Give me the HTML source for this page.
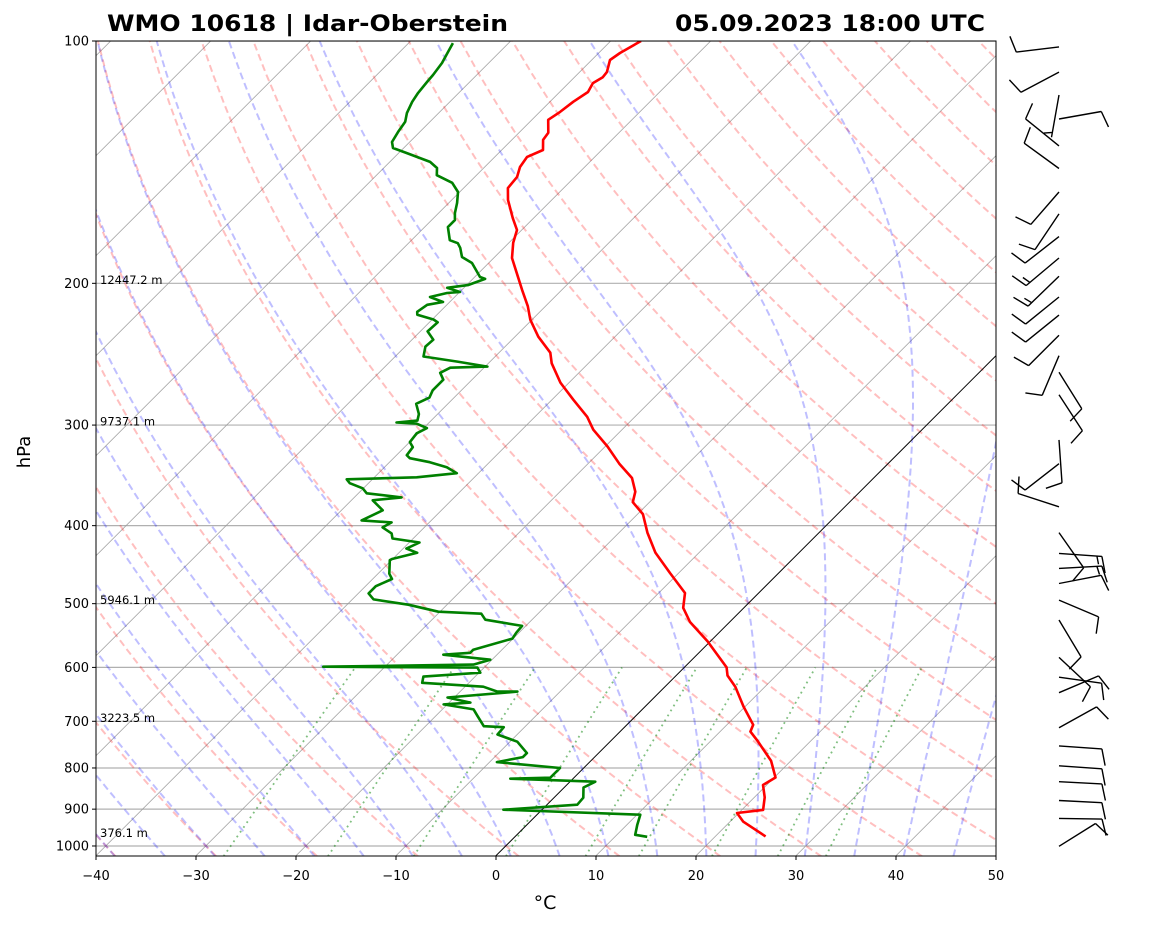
<!DOCTYPE html>
<html><head><meta charset="utf-8"><style>
html,body{margin:0;padding:0;background:#fff;}
svg{display:block;font-family:"DejaVu Sans","Liberation Sans",sans-serif;}
</style></head><body>
<svg id="chart" width="1160" height="925" viewBox="0 0 1160 925" xmlns="http://www.w3.org/2000/svg">
<defs><clipPath id="plotclip"><rect x="96" y="41" width="900" height="815"/></clipPath></defs>
<rect x="0" y="0" width="1160" height="925" fill="#fff"/>
<g id="bg" clip-path="url(#plotclip)"></g>
<g id="prof" clip-path="url(#plotclip)"></g>
<rect x="96" y="41" width="900" height="815" fill="none" stroke="#000" stroke-width="1"/>
<g id="axes"></g>
<g id="barbs"></g>
<text x="107" y="31" font-size="22" font-weight="bold" textLength="401" lengthAdjust="spacingAndGlyphs">WMO 10618 | Idar-Oberstein</text>
<text x="675" y="31" font-size="22" font-weight="bold" textLength="310" lengthAdjust="spacingAndGlyphs">05.09.2023 18:00 UTC</text>
<text x="30" y="452" font-size="18" text-anchor="middle" transform="rotate(-90 30 452)">hPa</text>
<text x="545" y="909" font-size="19" text-anchor="middle">°C</text>
</svg>
<script>
const tempP=[100,103.5,105.6,109.3,110.9,112.8,115.7,119,122.5,125.3,130,132.7,136.6,139.3,143.4,147.5,152.3,157.6,166,171.7,178.1,186,194.3,203.8,213.5,221.9,233,243.9,251.4,265.7,279,293,304,319,335,349,363,374,387,408,432,458,485,506,527,557,600,614,634,671,707,721,741,784,822,840,870,902,910,933,973];
const tempT=[-67.0,-67.9,-68.2,-67.3,-67.2,-67.6,-67.2,-67.7,-68.0,-68.4,-67.1,-66.9,-65.9,-66.8,-66.5,-65.8,-65.6,-64.4,-62.1,-60.5,-59.6,-58.2,-56.2,-54.0,-51.8,-50.2,-47.7,-44.9,-43.7,-40.9,-37.9,-34.8,-32.9,-29.8,-26.9,-24.2,-22.5,-21.7,-19.5,-17.2,-14.4,-10.9,-7.4,-6.1,-4.0,-0.3,4.2,5.1,7.0,9.8,12.6,13.0,14.7,18.0,20.1,19.6,21.0,22.1,19.8,21.3,25.0];
const dewP=[100.6,103.2,106.5,110.2,112.4,116,119,122.9,126,129.7,133.5,135.8,137.8,141.3,143.8,146.8,150,154,158.9,163.6,166.9,170.3,176.8,178.3,180.7,185.5,188.7,196.4,197.5,201,202.6,205,205.6,208,211,212.7,217,218.8,221.8,223.6,229.5,235,239.7,246.6,250.2,253.8,254.6,258.3,263.5,271.6,277.3,282.3,290.7,296.2,297.8,298.7,302.6,307.1,315,319.6,327,329.8,333.6,338.4,344.3,348.3,350.3,354.3,359.5,364.7,368.9,372,382.8,394,396.3,402,409,415,419.8,427.2,432.3,440,441.5,459,466,475.6,485.6,494,501.5,511.7,514.6,523.5,532.9,543.3,552.5,570.4,575.4,578.6,587,595.3,598.8,600.4,609.2,616,627,634,643,643,654,663.6,667,676.5,690,710,712,727,742,766.7,775.5,786.6,800,822.5,825,832,846,871,888.5,901.5,914.5,941,968.5,974];
const dewT=[-85.6,-85.2,-84.7,-84.4,-84.3,-84.1,-83.8,-83.2,-82.5,-82.2,-81.8,-81.1,-79.2,-76.0,-74.7,-74.0,-71.7,-70.2,-69.2,-68.4,-67.7,-67.7,-66.2,-65.1,-64.4,-63.3,-61.7,-59.5,-58.8,-59.9,-61.7,-60.0,-61.2,-62.5,-60.7,-62.0,-62.3,-62.0,-59.9,-59.2,-59.3,-57.9,-58.0,-57.2,-53.3,-49.8,-53.4,-53.9,-52.9,-52.9,-52.5,-53.2,-51.9,-51.4,-53.3,-51.2,-49.7,-50.2,-50.0,-49.2,-49.0,-48.4,-46.0,-43.8,-42.2,-45.8,-52.6,-51.9,-50.1,-49.2,-45.3,-47.9,-45.9,-47.0,-43.8,-44.2,-42.7,-42.1,-39.0,-39.7,-38.2,-40.1,-40.2,-38.9,-38.1,-39.0,-39.0,-37.9,-33.9,-30.2,-25.7,-24.7,-20.4,-20.3,-20.1,-22.9,-22.9,-25.4,-20.2,-21.4,-36.2,-20.7,-19.9,-25.2,-24.7,-18.2,-16.3,-14.3,-20.7,-17.9,-20.4,-16.9,-15.8,-14.2,-12.1,-12.0,-9.3,-7.2,-7.2,-9.3,-2.4,-2.4,-6.3,2.5,1.9,2.9,3.0,-3.9,10.3,11.0,11.8,13.2];
const barbP=[101.7,109.3,116.7,125,135,144,154,164,175,186,196,208,219,232,246,258,275,313,335,379,408,433,452,472,495,524,583,617,645,713,751,795,832,878,924,1001];
const barbDir=[263,242,190,80,309,306,221,214,232,230,226,231,231,225,203,148,147,176,232,288,145,94,87,79,113,149,133,98,67,61,94,94,93,93,91,58];
const barbSpd=[10,10,5,10,10,10,10,10,10,15,15,10,10,10,10,10,10,10,10,10,10,15,15,10,10,10,10,10,10,10,10,10,10,10,10,10];
const pTicks=[100,200,300,400,500,600,700,800,900,1000];
const tTicks=[-40,-30,-20,-10,0,10,20,30,40,50];
const heightP=[200,300,500,700,973];
const heightLabels=["12447.2 m","9737.1 m","5946.1 m","3223.5 m","376.1 m"];
const dryTheta=[-40,-30,-20,-10,0,10,20,30,40,50,60,70,80,90,100,110,120,130,140,150,160,170,180,190,200];
const moistT0=[-40,-35,-30,-25,-20,-15,-10,-5,0,5,10,15,20,25,30,35,40,45];
const mixW=[0.0004,0.001,0.002,0.004,0.007,0.01,0.016,0.024,0.032];

const NS="http://www.w3.org/2000/svg";
const PX0=96,PY0=41,PYB=856,PBOT=1030,KLOG=349.6;
function yOf(p){return PY0+KLOG*Math.log(p/100);}
function xOf(T,p){return PX0+(T+40)*10+(PYB-yOf(p));}
function mk(tag,attrs,parent){const e=document.createElementNS(NS,tag);for(const k in attrs)e.setAttribute(k,attrs[k]);parent.appendChild(e);return e;}
function ptsStr(arr){return arr.map(a=>a[0].toFixed(1)+","+a[1].toFixed(1)).join(" ");}
const bg=document.getElementById('bg'),prof=document.getElementById('prof'),axes=document.getElementById('axes'),barbs=document.getElementById('barbs');

pTicks.forEach(p=>{
  const l=mk('line',{x1:PX0,x2:996,y1:yOf(p),y2:yOf(p),stroke:'#b0b0b0','stroke-width':1.2},bg);
  
  
});
for(let T=-160;T<=50;T+=10){
  const x1=xOf(T,PBOT),y1=PYB,x2=x1+900,y2=PYB-900;
  const l=mk('line',{x1:x1,y1:y1,x2:x2,y2:y2,stroke:'#999','stroke-width':0.8,'stroke-opacity':0.9},bg);
  
  
}
dryTheta.forEach(th=>{
  const pts=[];
  for(let p=PBOT;p>=100;p-=10){const T=(th+273.15)*Math.pow(p/1000,0.2857)-273.15;pts.push([xOf(T,p),yOf(p)]);}
  const l=mk('polyline',{points:ptsStr(pts),fill:'none',stroke:'#f00','stroke-opacity':0.25,'stroke-width':2,'stroke-dasharray':'7,4'},bg);
  
  
});
function es(Tc){return 6.112*Math.exp(17.67*Tc/(Tc+243.5));}
function dTdp(Tk,p){const Rd=287.04,Cp=1004.6,Lv=2.501e6,eps=0.622;const e=es(Tk-273.15);const rs=eps*e/(p-e);
  return (1/p)*(Rd*Tk+Lv*rs)/(Cp+(Lv*Lv*rs*eps/(Rd*Tk*Tk)));}
function moistLine(t0){
  const up=[];let Tk=t0+273.15;
  for(let p=1000;p>100;p-=1){up.push([p,Tk]);Tk-=dTdp(Tk,p)*1;}
  up.push([100,Tk]);
  const dn=[];Tk=t0+273.15;
  for(let p=1000;p<PBOT;p+=1){Tk+=dTdp(Tk,p)*1;dn.push([p+1,Tk]);}
  return dn.reverse().concat(up).filter((a,i)=>i%5===0||a[0]===100);
}
moistT0.forEach(t0=>{
  const pts=moistLine(t0).map(a=>[xOf(a[1]-273.15,a[0]),yOf(a[0])]);
  const l=mk('polyline',{points:ptsStr(pts),fill:'none',stroke:'#00f','stroke-opacity':0.25,'stroke-width':2,'stroke-dasharray':'7,4'},bg);
  
  
});
mixW.forEach(w=>{
  const pts=[];
  for(let p=PBOT;p>=600;p-=10){const e=w*p/(0.622+w);const L=Math.log(e/6.112);const Td=243.5*L/(17.67-L);pts.push([xOf(Td,p),yOf(p)]);}
  const l=mk('polyline',{points:ptsStr(pts),fill:'none',stroke:'#008000','stroke-opacity':0.5,'stroke-width':1.8,'stroke-dasharray':'1.8,4'},bg);
  
  
});
(function(){const x1=xOf(0,PBOT);const l=mk('line',{x1:x1,y1:PYB,x2:x1+900,y2:PYB-900,stroke:'#000','stroke-width':0.9},bg);

})();

(function(){
  const tp=tempP.map((p,i)=>[xOf(tempT[i],p),yOf(p)]);
  const t=mk('polyline',{points:ptsStr(tp),fill:'none',stroke:'#f00','stroke-width':2.6,'stroke-linejoin':'round'},prof);
  
  
  const dp=dewP.map((p,i)=>[xOf(dewT[i],p),yOf(p)]);
  const d=mk('polyline',{points:ptsStr(dp),fill:'none',stroke:'#008000','stroke-width':2.6,'stroke-linejoin':'round'},prof);
  
  
})();

heightP.forEach((p,i)=>{
  const t=mk('text',{x:100,y:yOf(p)+0.5,'font-size':11.5},axes);
  t.textContent=heightLabels[i];
  
  
});
pTicks.forEach(p=>{
  const y=yOf(p);
  const l=mk('line',{x1:PX0-4,x2:PX0,y1:y,y2:y,stroke:'#000','stroke-width':1},axes);
  
  
  const t=mk('text',{x:PX0-7,y:y+4.5,'font-size':13,'text-anchor':'end'},axes);
  t.textContent=String(p);
  
  
});
tTicks.forEach(T=>{
  const x=PX0+(T+40)*10;
  const l=mk('line',{x1:x,x2:x,y1:PYB,y2:PYB+4,stroke:'#000','stroke-width':1},axes);
  
  
  const t=mk('text',{x:x,y:880,'font-size':13,'text-anchor':'middle'},axes);
  t.textContent=(T<0?'\u2212'+Math.abs(T):String(T));
  
  
});
barbP.forEach((p,i)=>{
  const ox=1059,oy=yOf(p);
  const d=barbDir[i]*Math.PI/180;
  const ux=Math.sin(d),uy=-Math.cos(d);
  const L=43,B=17;
  const c=Math.cos(75*Math.PI/180),s=Math.sin(75*Math.PI/180);
  const bx=ux*c-uy*s,by=ux*s+uy*c;
  const tx=ox+ux*L,ty=oy+uy*L;
  let path='M'+ox.toFixed(1)+' '+oy.toFixed(1)+'L'+tx.toFixed(1)+' '+ty.toFixed(1);
  let spd=barbSpd[i];let pos=0;
  while(spd>=10){const sx=tx-ux*pos,sy=ty-uy*pos;path+='M'+sx.toFixed(1)+' '+sy.toFixed(1)+'l'+(bx*B).toFixed(1)+' '+(by*B).toFixed(1);pos+=5;spd-=10;}
  if(spd>=5){if(pos===0)pos=5;const sx=tx-ux*pos,sy=ty-uy*pos;path+='M'+sx.toFixed(1)+' '+sy.toFixed(1)+'l'+(bx*B/2).toFixed(1)+' '+(by*B/2).toFixed(1);}
  const e=mk('path',{d:path,fill:'none',stroke:'#000','stroke-width':1.4},barbs);
  
  
});
</script>
</body></html>
